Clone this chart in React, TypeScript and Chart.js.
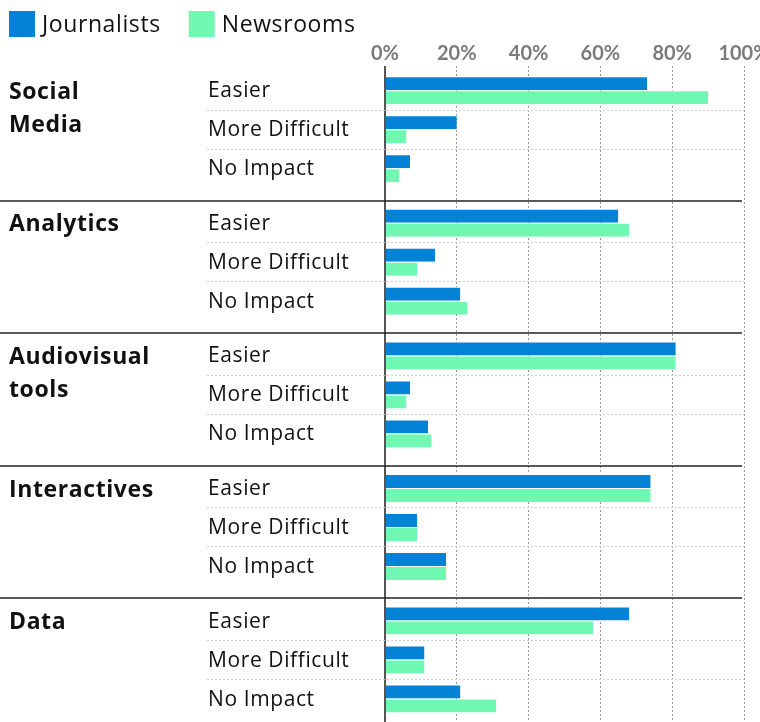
import React, { useEffect, useRef } from "react";
import { Chart, registerables } from "chart.js";

Chart.register(...registerables);

const GROUP_LABELS: string[][] = [["Social", "Media"], ["Analytics"], ["Audiovisual", "tools"], ["Interactives"], ["Data"]];
const IMPACT_LABELS = ["Easier", "More Difficult", "No Impact"];
const SERIES_NAMES = ["Journalists", "Newsrooms"];
const SERIES_COLORS = ["#0483d6", "#6ef8b2"];
const JOURNALISTS = [73, 20, 7, 65, 14, 21, 81, 7, 12, 74, 9, 17, 68, 11, 21];
const NEWSROOMS = [90, 6, 4, 68, 9, 23, 81, 6, 13, 74, 9, 17, 58, 11, 31];
const X_TICK_VALUES = [0, 20, 40, 60, 80, 100];

const GROUP_SPAN = 3.4;
const rowPos = (i: number) => Math.floor(i / 3) * GROUP_SPAN + (i % 3);

const FONT = "'Open Sans', 'Noto Sans', sans-serif";
const TICK_FONT = "Lato, 'Open Sans', sans-serif";

const decorPlugin = {
  id: "decor",
  afterDraw(chart: any) {
    const { ctx, chartArea, scales } = chart;
    const y = scales.y;
    ctx.save();
    // dotted separators between rows
    ctx.strokeStyle = "#cccccc";
    ctx.lineWidth = 1;
    ctx.setLineDash([2, 2]);
    for (let g = 0; g < GROUP_LABELS.length; g++) {
      for (const r of [0.5, 1.5]) {
        const py = Math.round(y.getPixelForValue(g * GROUP_SPAN + r)) + 0.5;
        ctx.beginPath();
        ctx.moveTo(207, py);
        ctx.lineTo(chartArea.right, py);
        ctx.stroke();
      }
    }
    // solid separators between groups
    ctx.setLineDash([]);
    ctx.strokeStyle = "#222222";
    ctx.lineWidth = 1.5;
    for (let g = 0; g < GROUP_LABELS.length - 1; g++) {
      const py = Math.round(y.getPixelForValue(g * GROUP_SPAN + 2.83));
      ctx.beginPath();
      ctx.moveTo(0, py);
      ctx.lineTo(chartArea.right - 2, py);
      ctx.stroke();
    }
    // row labels
    ctx.fillStyle = "#111111";
    ctx.textBaseline = "middle";
    ctx.textAlign = "left";
    ctx.font = `21px ${FONT}`;
    (ctx as any).letterSpacing = "0.6px";
    for (let i = 0; i < JOURNALISTS.length; i++) {
      const py = y.getPixelForValue(rowPos(i));
      ctx.fillText(IMPACT_LABELS[i % 3], 208, py + 1);
    }
    // group labels
    ctx.font = `bold 23px ${FONT}`;
    (ctx as any).letterSpacing = "0.6px";
    GROUP_LABELS.forEach((lines, g) => {
      const py = y.getPixelForValue(g * GROUP_SPAN);
      lines.forEach((l, k) => ctx.fillText(l, 9, py + 2 + k * 33));
    });
    // legend
    ctx.font = `23px ${FONT}`;
    (ctx as any).letterSpacing = "0.6px";
    let lx = 9;
    chart.data.datasets.forEach((ds: any) => {
      ctx.fillStyle = ds.backgroundColor;
      ctx.fillRect(lx, 11, 26, 26);
      ctx.fillStyle = "#111111";
      ctx.fillText(ds.label, lx + 33, 25.5);
      lx += 33 + ctx.measureText(ds.label).width + 28;
    });
    ctx.restore();
  },
};

export default function App() {
  const ref = useRef<HTMLCanvasElement | null>(null);
  useEffect(() => {
    if (!ref.current) return;
    const mk = (vals: number[], i: number) => ({
      label: SERIES_NAMES[i],
      data: vals.map((v, k) => ({ x: v, y: rowPos(k) })),
      backgroundColor: SERIES_COLORS[i],
      borderColor: "#ffffff",
      borderWidth: { top: 1, right: 0, bottom: 0, left: 0 },
      borderSkipped: "start",
      barThickness: 14,
      inflateAmount: 0,
    });
    const chart = new Chart(ref.current, {
      type: "bar",
      data: { datasets: [mk(JOURNALISTS, 0), mk(NEWSROOMS, 1)] as any },
      options: {
        indexAxis: "y",
        animation: false,
        responsive: false,
        layout: { padding: { left: 385, right: 16, top: 0, bottom: 0 } },
        plugins: { legend: { display: false }, tooltip: { enabled: false } },
        scales: {
          x: {
            type: "linear",
            position: "top",
            min: 0,
            max: 100,
            afterBuildTicks: (s: any) => {
              s.ticks = X_TICK_VALUES.map((v) => ({ value: v }));
            },
            ticks: {
              callback: (v: any) => v + "%",
              font: { family: TICK_FONT, size: 20, weight: "bold" },
              color: "#7b7b7b",
              padding: 0,
              maxRotation: 0,
              autoSkip: false,
            },
            grid: {
              drawTicks: false,
              color: (c: any) => (c.tick && c.tick.value === 0 ? "#555555" : "#999999"),
              lineWidth: (c: any) => (c.tick && c.tick.value === 0 ? 2 : 1),
            },
            border: {
              display: false,
              dash: (c: any) => (c.tick && c.tick.value === 0 ? [] : [2, 2]),
            },
            afterFit: (s: any) => {
              s.height = 66;
              s.paddingLeft = 0;
              s.paddingRight = 0;
            },
          },
          y: {
            type: "linear",
            display: false,
            offset: false,
            reverse: true,
            min: -0.62,
            max: 16.2,
          },
        },
      } as any,
      plugins: [decorPlugin],
    });
    return () => chart.destroy();
  }, []);
  return (
    <div style={{ position: "fixed", left: 0, top: 0, width: 760, height: 722, background: "#fff" }}>
      <canvas ref={ref} width={760} height={722} style={{ display: "block" }} />
    </div>
  );
}
